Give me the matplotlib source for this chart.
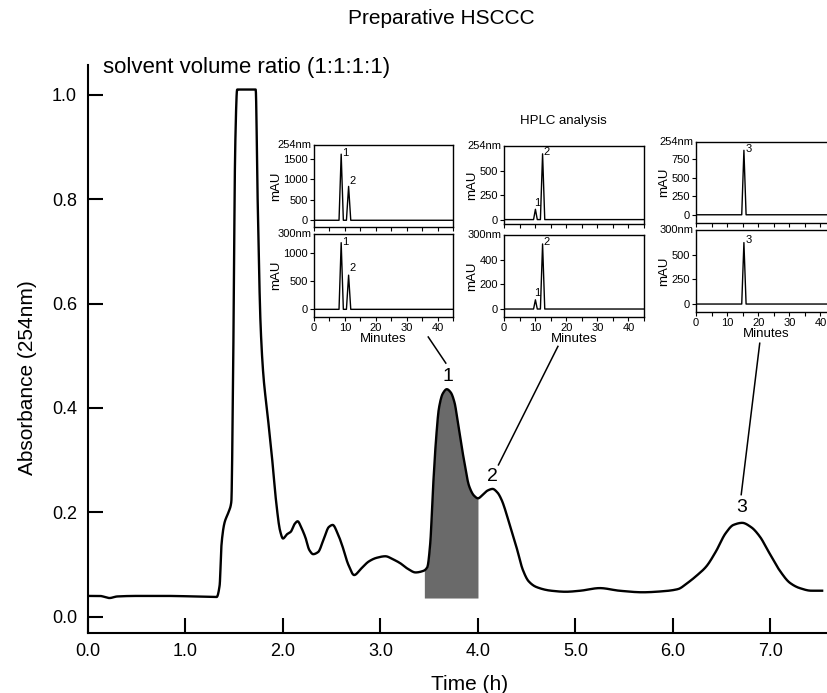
import numpy as np
import matplotlib
matplotlib.use("Agg")
import matplotlib.pyplot as plt

plt.rcParams['font.family'] = ['Liberation Sans', 'DejaVu Sans']

# preparative HSCCC trace, time (h) vs absorbance at 254 nm
time_h = [0.00, 0.12, 0.22, 0.30, 0.50, 0.80, 1.10, 1.32, 1.35, 1.37, 1.40, 1.44, 1.47,
          1.49, 1.51, 1.53, 1.72, 1.74, 1.77, 1.80, 1.84, 1.89, 1.93, 1.97, 2.00, 2.04,
          2.08, 2.12, 2.15, 2.19, 2.23, 2.27, 2.31, 2.36, 2.42, 2.47, 2.51, 2.56, 2.61,
          2.67, 2.73, 2.80, 2.88, 2.96, 3.05, 3.13, 3.20, 3.28, 3.36, 3.44, 3.48, 3.51,
          3.54, 3.57, 3.60, 3.64, 3.68, 3.72, 3.76, 3.79, 3.85, 3.91, 3.96, 4.00, 4.05,
          4.10, 4.15, 4.20, 4.24, 4.32, 4.40, 4.46, 4.52, 4.60, 4.75, 4.90, 5.05, 5.25,
          5.45, 5.69, 5.90, 6.05, 6.15, 6.25, 6.34, 6.44, 6.54, 6.62, 6.71, 6.80, 6.89,
          6.98, 7.09, 7.20, 7.30, 7.42, 7.53]
absorb = [0.040, 0.040, 0.036, 0.039, 0.040, 0.040, 0.039, 0.038, 0.060, 0.140, 0.180,
          0.200, 0.220, 0.500, 0.900, 1.010, 1.010, 0.800, 0.560, 0.460, 0.390, 0.300,
          0.220, 0.165, 0.150, 0.158, 0.163, 0.178, 0.183, 0.170, 0.152, 0.128, 0.120,
          0.124, 0.150, 0.172, 0.176, 0.160, 0.135, 0.100, 0.080, 0.092, 0.106, 0.113,
          0.116, 0.110, 0.103, 0.092, 0.085, 0.088, 0.095, 0.140, 0.250, 0.340, 0.400,
          0.428, 0.436, 0.430, 0.410, 0.377, 0.307, 0.250, 0.232, 0.227, 0.234, 0.242,
          0.245, 0.238, 0.225, 0.180, 0.130, 0.090, 0.068, 0.057, 0.050, 0.048, 0.050,
          0.055, 0.050, 0.047, 0.049, 0.053, 0.065, 0.080, 0.096, 0.125, 0.160, 0.176,
          0.180, 0.172, 0.154, 0.125, 0.090, 0.065, 0.055, 0.050, 0.050]

collected = (3.45, 4.00)   # shaded fraction 1
shade_floor = 0.036

x_ticks = [0, 1, 2, 3, 4, 5, 6, 7]
y_ticks = [0.0, 0.2, 0.4, 0.6, 0.8, 1.0]

# HPLC insets: (minutes, mAU) traces
f1_254_t = [0, 8.1, 8.8, 9.5, 10.5, 11.2, 11.9, 45]
f1_254_s = [0, 0, 1620, 0, 0, 830, 0, 0]
f1_300_t = [0, 8.1, 8.8, 9.5, 10.5, 11.2, 11.9, 45]
f1_300_s = [0, 0, 1190, 0, 0, 610, 0, 0]
f2_254_t = [0, 9.5, 10.1, 10.7, 11.7, 12.4, 13.1, 45]
f2_254_s = [0, 0, 105, 0, 0, 670, 0, 0]
f2_300_t = [0, 9.5, 10.1, 10.7, 11.7, 12.4, 13.1, 45]
f2_300_s = [0, 0, 75, 0, 0, 530, 0, 0]
f3_254_t = [0, 14.7, 15.4, 16.1, 45]
f3_254_s = [0, 0, 870, 0, 0]
f3_300_t = [0, 14.7, 15.4, 16.1, 45]
f3_300_s = [0, 0, 625, 0, 0]

W, H = 827, 693
fig = plt.figure(figsize=(W / 100, H / 100), dpi=100)


def frac(left, top, right, bottom):
    return [left / W, 1 - bottom / H, (right - left) / W, (bottom - top) / H]


def pchip(x, y, n=3000):
    # monotone cubic, so the trace looks like a smooth detector line without overshoot
    x = np.asarray(x, float)
    y = np.asarray(y, float)
    h = np.diff(x)
    d = np.diff(y) / h
    m = np.zeros_like(y)
    m[0], m[-1] = d[0], d[-1]
    for k in range(1, len(x) - 1):
        if d[k - 1] * d[k] > 0:
            w1 = 2 * h[k] + h[k - 1]
            w2 = h[k] + 2 * h[k - 1]
            m[k] = (w1 + w2) / (w1 / d[k - 1] + w2 / d[k])
    xs = np.linspace(x[0], x[-1], n)
    i = np.clip(np.searchsorted(x, xs) - 1, 0, len(h) - 1)
    t = (xs - x[i]) / h[i]
    ys = ((2 * t**3 - 3 * t**2 + 1) * y[i] + (t**3 - 2 * t**2 + t) * h[i] * m[i]
          + (-2 * t**3 + 3 * t**2) * y[i + 1] + (t**3 - t**2) * h[i] * m[i + 1])
    return xs, ys


ax = fig.add_axes(frac(88, 65, 827, 633))
xs, ys = pchip(time_h, absorb)
ax.plot(xs, ys, color='black', lw=1.7, solid_joinstyle='round')
tf = np.linspace(collected[0], collected[1], 120)
ax.fill_between(tf, shade_floor, np.interp(tf, xs, ys), color='#6a6a6a', lw=0)
ax.set_xlim(0, 7.58)
ax.set_ylim(-0.031, 1.057)
ax.set_xticks(x_ticks)
ax.set_xticklabels([f'{v:.1f}' for v in x_ticks])
ax.set_yticks(y_ticks)
ax.set_yticklabels([f'{v:.1f}' for v in y_ticks])
for side in ['top', 'right']:
    ax.spines[side].set_visible(False)
for side in ['left', 'bottom']:
    ax.spines[side].set_linewidth(1.5)
ax.tick_params(direction='in', length=11, width=1.5, labelsize=13)
ax.tick_params(axis='y', pad=8)
ax.tick_params(axis='x', pad=7)

fig.text(441 / W, 1 - 19 / H, 'Preparative HSCCC', ha='center', va='center', fontsize=15)
fig.text(103 / W, 1 - 67 / H, 'solvent volume ratio (1:1:1:1)', ha='left', va='center',
         fontsize=16)
fig.text(28 / W, 1 - 378 / H, 'Absorbance (254nm)', rotation=90, ha='center', va='center',
         fontsize=15)
fig.text(470 / W, 1 - 684 / H, 'Time (h)', ha='center', va='center', fontsize=15)

# peak labels with leader lines up to the HPLC insets
ax.text(3.69, 0.460, '1', ha='center', va='center', fontsize=14)
ax.text(4.15, 0.268, '2', ha='center', va='center', fontsize=14)
ax.text(6.70, 0.209, '3', ha='center', va='center', fontsize=14)
ax.plot([3.49, 3.67], [0.536, 0.486], color='black', lw=1.1)
ax.plot([4.82, 4.21], [0.518, 0.291], color='black', lw=1.1)
ax.plot([6.89, 6.70], [0.524, 0.234], color='black', lw=1.1)


def hplc_panel(rect, t, s, ylim, yticks, nm, peaks, bottom):
    a = fig.add_axes(rect)
    a.plot(t, s, color='black', lw=1.0)
    a.set_xlim(0, 45)
    a.set_ylim(*ylim)
    a.set_yticks(yticks)
    a.set_xticks(range(0, 46, 5))
    if bottom:
        a.set_xticklabels([str(v) if v % 10 == 0 and v < 45 else '' for v in range(0, 46, 5)])
        a.set_xlabel('Minutes', fontsize=9.5, labelpad=0)
    else:
        a.set_xticklabels([])
    a.set_ylabel('mAU', fontsize=9.5, labelpad=1)
    a.tick_params(direction='out', length=3, width=0.8, labelsize=8, pad=1.5)
    for sp in a.spines.values():
        sp.set_linewidth(1.0)
    a.text(-0.02, 1.0, nm, transform=a.transAxes, ha='right', va='center', fontsize=8)
    for label, px, py in peaks:
        a.text(px + 0.4, py, label, ha='left', va='center', fontsize=8)
    return a


hplc_panel(frac(314, 145, 453, 227), f1_254_t, f1_254_s, (-165, 1845), [0, 500, 1000, 1500],
           '254nm', [('1', 8.8, 1650), ('2', 11.2, 960)], False)
hplc_panel(frac(314, 234, 453, 317), f1_300_t, f1_300_s, (-137, 1345), [0, 500, 1000],
           '300nm', [('1', 8.8, 1210), ('2', 11.2, 730)], True)
hplc_panel(frac(504, 146, 644, 224), f2_254_t, f2_254_s, (-45, 750), [0, 250, 500],
           '254nm', [('1', 9.4, 170), ('2', 12.4, 690)], False)
hplc_panel(frac(504, 235, 644, 317), f2_300_t, f2_300_s, (-65, 603), [0, 200, 400],
           '300nm', [('1', 9.4, 130), ('2', 12.4, 550)], True)
hplc_panel(frac(696, 142, 836, 223), f3_254_t, f3_254_s, (-111, 982), [0, 250, 500, 750],
           '254nm', [('3', 15.4, 890)], False)
hplc_panel(frac(696, 230, 836, 312), f3_300_t, f3_300_s, (-81, 753), [0, 250, 500],
           '300nm', [('3', 15.4, 650)], True)

fig.text(563 / W, 1 - 121 / H, 'HPLC analysis', ha='center', va='center', fontsize=9.5)

fig.savefig('out.png', dpi=100)
